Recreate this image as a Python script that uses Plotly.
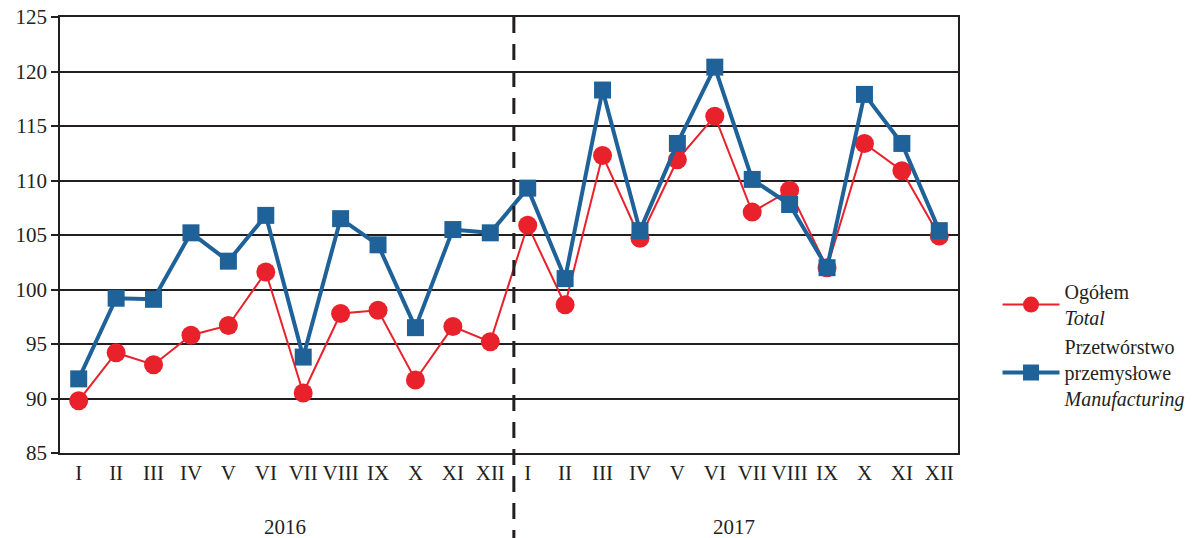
import plotly.graph_objects as go

months = ["I", "II", "III", "IV", "V", "VI", "VII", "VIII", "IX", "X", "XI", "XII"]
years = ["2016", "2017"]
categories = months + months
total = [89.8, 94.2, 93.1, 95.8, 96.7, 101.6, 90.5, 97.8, 98.1, 91.7, 96.6, 95.2,
         105.9, 98.6, 112.3, 104.7, 111.9, 115.9, 107.1, 109.1, 102.0, 113.4, 110.9, 104.9]
manufacturing = [91.8, 99.2, 99.1, 105.2, 102.6, 106.8, 93.8, 106.5, 104.1, 96.5, 105.5, 105.2,
                 109.3, 101.0, 118.3, 105.4, 113.4, 120.4, 110.1, 107.8, 102.0, 117.9, 113.4, 105.4]
y_ticks = [85, 90, 95, 100, 105, 110, 115, 120, 125]

RED = "#e8212b"
BLUE = "#1f6299"
INK = "#231f20"
FONT = "Liberation Serif"

x = list(range(len(categories)))

fig = go.Figure()
fig.add_trace(go.Scatter(
    x=x, y=total, mode="lines+markers", name="Ogółem<br><i>Total</i>",
    line=dict(color=RED, width=2),
    marker=dict(symbol="circle", size=19, color=RED),
))
fig.add_trace(go.Scatter(
    x=x, y=manufacturing, mode="lines+markers",
    name="Przetwórstwo<br>przemysłowe<br><i>Manufacturing</i>",
    line=dict(color=BLUE, width=4),
    marker=dict(symbol="square", size=17, color=BLUE),
))

fig.add_shape(type="line", xref="x", yref="paper", x0=11.63, x1=11.63, y0=1, y1=-0.2,
              line=dict(color=INK, width=3, dash="16px,11px"))

for i, yr in enumerate(years):
    fig.add_annotation(x=5.5 + 12 * i, y=-0.17, xref="x", yref="paper", text=yr,
                       showarrow=False, font=dict(family=FONT, size=21, color=INK),
                       yanchor="middle")

fig.update_layout(
    width=1199, height=538,
    margin=dict(l=60, r=241, t=17, b=85, autoexpand=False),
    paper_bgcolor="white", plot_bgcolor="white",
    font=dict(family=FONT, size=21, color=INK),
    showlegend=True,
    legend=dict(x=1.044, xanchor="left", y=0.415, yanchor="top",
                font=dict(family=FONT, size=20, color=INK),
                itemwidth=57, tracegroupgap=0, bgcolor="rgba(0,0,0,0)"),
    xaxis=dict(range=[-0.5, 23.5], tickmode="array", tickvals=x, ticktext=categories,
               showgrid=False, zeroline=False, showline=True, linecolor=INK, linewidth=1.5,
               mirror=True, ticks="", automargin=False,
               tickfont=dict(family=FONT, size=21, color=INK)),
    yaxis=dict(range=[85, 125], tickmode="array", tickvals=y_ticks,
               showgrid=True, gridcolor=INK, gridwidth=2, zeroline=False,
               showline=True, linecolor=INK, linewidth=1.5, mirror=True,
               ticks="outside", ticklen=7, tickcolor=INK, tickwidth=2, automargin=False,
               tickfont=dict(family=FONT, size=21, color=INK)),
)

fig.write_html("out.html", config={"displayModeBar": False},
               post_script="document.body.style.margin='0';")
